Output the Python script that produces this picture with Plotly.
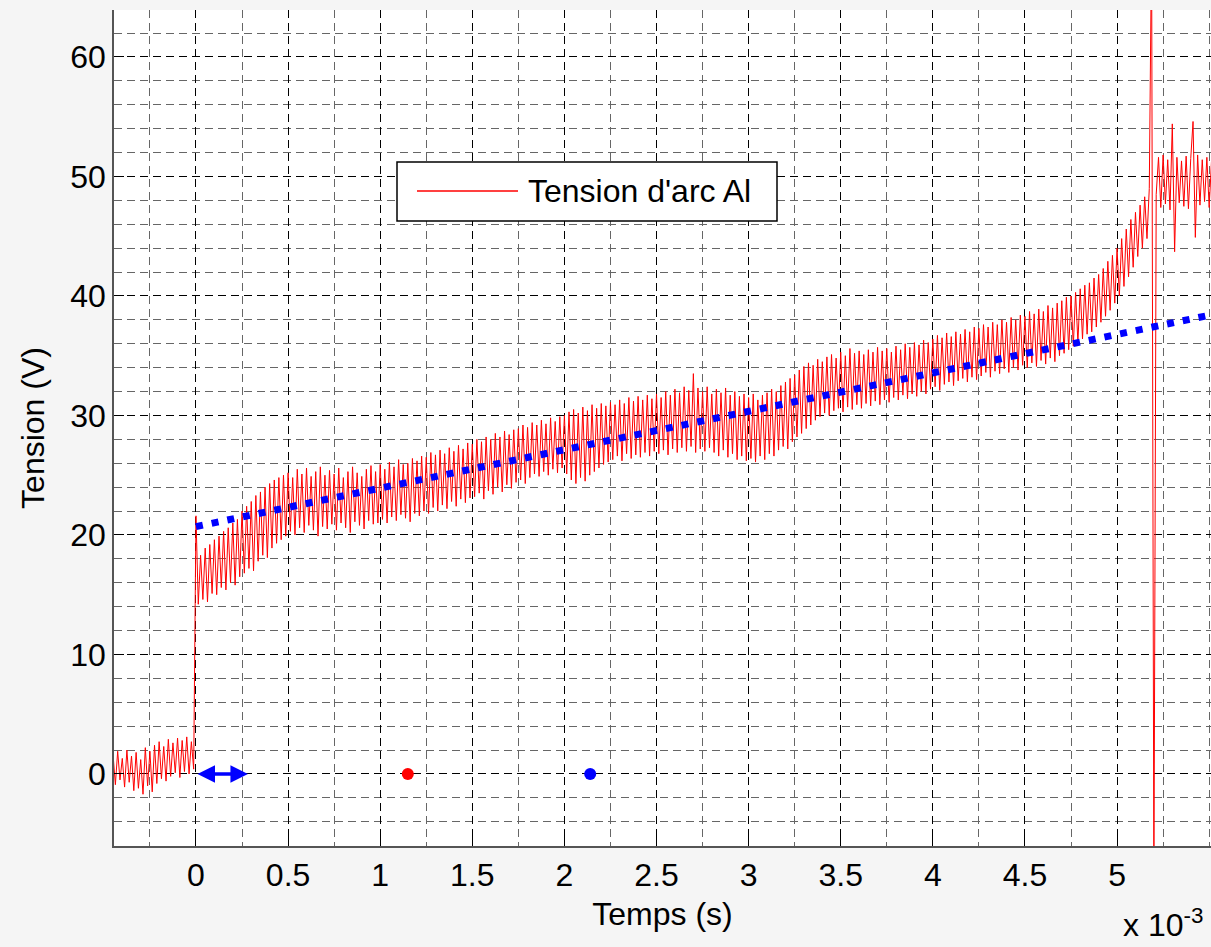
import numpy as np
import plotly.graph_objects as go

# ---- Arc voltage record (sampled every 0.0125 ms, starting at -0.45 ms) ----
T_START_MS = -0.45
DT_MS = 0.0125

# Voltage samples (V) before the arc ignites
V_PRE = [1.6, -0.9, 1.9, -0.5, 1.3, -1.1, 2.0, -0.7, 1.5, -1.4,
         1.8, -1.2, 1.2, -1.7, 2.2, -1.0, 1.9, -1.5, 2.4, -0.8,
         2.7, -0.4, 2.3, -0.6, 2.9, -0.2, 2.6, 0.1, 3.0, -0.3,
         2.8, 0.2, 3.1, 0.0, 2.7, 0.4]

# Arc voltage, one row per 0.25 ms
V_ARC = [
    21.6, 14.2, 18.3, 14.6, 18.9, 14.4, 19.2, 15.1, 19.6, 15.0, 19.9, 15.6, 20.3, 15.4, 20.6, 16.0, 21.0, 15.8, 21.3, 16.5,  # 0.00
    22.0, 16.8, 22.4, 17.2, 22.8, 17.0, 23.3, 17.8, 23.6, 18.3, 24.0, 18.1, 24.3, 18.9, 24.6, 19.3, 24.8, 19.6, 25.0, 19.9,  # 0.25
    25.2, 20.3, 24.8, 20.0, 25.5, 20.6, 25.1, 20.2, 25.6, 20.8, 24.9, 20.4, 25.3, 19.9, 25.7, 20.7, 25.0, 20.5, 25.4, 20.9,  # 0.50
    25.1, 20.4, 25.6, 21.0, 24.8, 20.6, 25.3, 20.2, 25.7, 21.1, 25.2, 20.8, 24.9, 20.5, 25.5, 21.2, 25.8, 20.9, 25.3, 21.0,  # 0.75
    25.9, 21.3, 25.5, 21.0, 26.1, 21.5, 25.7, 21.2, 26.3, 21.7, 25.9, 21.4, 26.0, 21.1, 26.4, 21.8, 26.2, 21.6, 26.6, 22.0,  # 1.00
    26.5, 21.8, 26.9, 22.3, 26.7, 22.0, 27.1, 22.5, 26.8, 22.2, 27.3, 22.8, 27.0, 22.4, 27.5, 23.0, 27.2, 22.7, 27.7, 23.1,  # 1.25
    27.6, 23.2, 28.0, 23.5, 27.8, 23.0, 28.2, 23.7, 28.0, 23.4, 28.5, 24.0, 28.2, 23.6, 28.7, 24.2, 28.4, 23.9, 28.8, 24.4,  # 1.50
    28.9, 24.6, 29.2, 24.3, 29.0, 24.8, 29.4, 25.1, 29.2, 24.9, 29.6, 25.3, 29.3, 25.0, 29.8, 25.5, 29.5, 25.2, 29.9, 25.6,  # 1.75
    30.0, 25.1, 30.3, 24.6, 30.5, 24.3, 30.2, 24.8, 30.7, 24.5, 30.4, 25.0, 30.9, 25.3, 30.6, 25.6, 31.0, 25.9, 30.8, 26.1,  # 2.00
    31.1, 26.3, 30.9, 26.6, 31.3, 26.2, 31.0, 26.8, 31.5, 26.4, 31.2, 26.7, 31.6, 26.5, 31.3, 26.9, 31.7, 26.6, 31.4, 27.0,  # 2.25
    31.8, 26.8, 31.5, 27.1, 32.0, 26.7, 31.7, 27.2, 32.2, 26.9, 31.9, 27.3, 32.4, 27.0, 32.1, 27.4, 33.5, 26.9, 32.3, 27.2,  # 2.50
    32.0, 27.0, 32.4, 27.3, 31.8, 26.9, 32.2, 26.6, 31.9, 27.1, 32.3, 26.5, 31.7, 26.8, 32.0, 26.3, 31.6, 26.6, 31.8, 26.2,  # 2.75
    31.5, 26.4, 31.8, 26.1, 31.3, 26.6, 31.7, 26.3, 31.9, 26.8, 32.2, 26.6, 32.0, 27.1, 32.5, 27.4, 32.8, 27.2, 33.1, 27.8,  # 3.00
    33.4, 28.2, 33.8, 28.5, 34.1, 28.9, 34.4, 29.2, 34.2, 29.6, 34.7, 29.9, 34.5, 30.2, 34.9, 30.0, 35.1, 30.4, 34.8, 30.6,  # 3.25
    35.3, 30.3, 35.0, 30.7, 35.6, 30.5, 35.2, 30.9, 35.4, 30.6, 35.1, 31.0, 35.5, 30.8, 35.3, 31.2, 35.7, 30.9, 35.4, 31.3,  # 3.50
    35.6, 31.1, 35.3, 31.5, 35.8, 31.3, 35.5, 31.7, 36.0, 31.4, 35.7, 31.8, 36.1, 31.6, 35.9, 32.0, 36.3, 31.8, 36.1, 32.2,  # 3.75
    36.4, 32.4, 36.7, 32.1, 36.5, 32.6, 36.9, 32.8, 36.6, 32.5, 37.0, 32.9, 36.8, 33.1, 37.2, 32.8, 37.0, 33.2, 37.4, 33.0,  # 4.00
    37.3, 33.3, 37.6, 33.6, 37.4, 33.2, 37.8, 33.7, 37.6, 33.5, 38.0, 33.9, 37.8, 33.6, 38.2, 34.0, 38.0, 33.8, 38.4, 34.2,  # 4.25
    38.3, 34.0, 38.7, 34.4, 38.5, 34.1, 38.9, 34.6, 38.7, 34.3, 39.2, 34.8, 39.0, 34.5, 39.4, 35.0, 39.6, 35.2, 39.9, 35.5,  # 4.50
    40.0, 35.8, 40.3, 36.1, 40.6, 36.4, 40.9, 36.8, 41.1, 37.0, 41.5, 37.4, 41.8, 37.8, 42.3, 38.3, 42.9, 38.8, 43.4, 39.4,  # 4.75
    44.0, 40.0, 44.8, 40.8, 45.6, 41.6, 46.4, 42.4, 47.0, 43.3, 47.6, 44.0, 48.3, 44.8, 49.0,                                # 5.00
]

# Electrode break-off transient at 5.19 ms
V_BREAK = [70.0, -10.0]

# Open-circuit phase after the break
V_POST = [48.5, 51.6, 47.4, 51.8, 47.7, 51.4, 47.2, 54.4, 43.7, 51.6,
          47.8, 51.3, 47.5, 51.7, 47.3, 51.5, 54.6, 44.9, 51.8, 47.6,
          51.4, 47.9, 51.6, 47.4, 51.2, 48.0]

voltage = np.array(V_PRE + V_ARC + V_BREAK + V_POST)
time_s = (T_START_MS + DT_MS * np.arange(voltage.size)) * 1e-3

# Linear trend of the arc voltage
FIT_T_MS = [0.0, 5.52]
FIT_V = [20.7, 38.45]

# Marked points on the zero line
RED_DOT = (1.15, 0.0)
BLUE_DOT = (2.14, 0.0)
ARROW_MS = (0.0, 0.282)

X_TICK_MS = [0, 0.5, 1, 1.5, 2, 2.5, 3, 3.5, 4, 4.5, 5]
X_TICK_LABELS = ["0", "0.5", "1", "1.5", "2", "2.5", "3", "3.5", "4", "4.5", "5"]
Y_TICK_VALUES = [0, 10, 20, 30, 40, 50, 60]

LEGEND_TEXT = "Tension d'arc Al"
FONT = "Liberation Sans, Arial, sans-serif"
FS = 32

W, H = 1211, 947
L, R, T, B = 114, 0, 10, 101
PW, PH = W - L - R, H - T - B


def px_to_paper(px, py):
    return (px - L) / PW, (H - B - py) / PH


fig = go.Figure()

fig.add_trace(go.Scatter(
    x=time_s, y=voltage, mode="lines",
    line=dict(color="#ff0000", width=1),
    name=LEGEND_TEXT, showlegend=False, hoverinfo="skip",
))

fig.add_trace(go.Scatter(
    x=[t * 1e-3 for t in FIT_T_MS], y=FIT_V, mode="lines",
    line=dict(color="#0000ff", width=7, dash="7px,9px"),
    showlegend=False, hoverinfo="skip",
))

fig.add_trace(go.Scatter(
    x=[RED_DOT[0] * 1e-3], y=[RED_DOT[1]], mode="markers",
    marker=dict(color="#ff0000", size=12), showlegend=False,
))
fig.add_trace(go.Scatter(
    x=[BLUE_DOT[0] * 1e-3], y=[BLUE_DOT[1]], mode="markers",
    marker=dict(color="#0000ff", size=12), showlegend=False,
))

# Double arrow marking the arc start interval
fig.add_annotation(
    x=ARROW_MS[1] * 1e-3, y=0, ax=ARROW_MS[0] * 1e-3, ay=0,
    xref="x", yref="y", axref="x", ayref="y",
    text="", showarrow=True, arrowside="end+start",
    arrowhead=2, arrowsize=1, arrowwidth=3.5, arrowcolor="#0000ff",
    standoff=0, startstandoff=0,
)

# Legend box
x0, y0 = px_to_paper(397, 221)
x1, y1 = px_to_paper(777, 162)
fig.add_shape(type="rect", xref="paper", yref="paper",
              x0=x0, y0=y0, x1=x1, y1=y1,
              line=dict(color="black", width=1.5), fillcolor="white", layer="above")
lx0, ly = px_to_paper(417, 191)
lx1, _ = px_to_paper(518, 191)
fig.add_shape(type="line", xref="paper", yref="paper",
              x0=lx0, y0=ly, x1=lx1, y1=ly,
              line=dict(color="#ff0000", width=1.5), layer="above")
tx, _ = px_to_paper(526, 191)
fig.add_annotation(x=tx, y=ly, xref="paper", yref="paper",
                   text=LEGEND_TEXT, showarrow=False,
                   xanchor="left", yanchor="middle",
                   font=dict(family=FONT, size=FS, color="black"))

# Axis exponent
ex, ey = px_to_paper(1205, 945)
fig.add_annotation(x=ex, y=ey, xref="paper", yref="paper",
                   text="x 10<sup>-3</sup>", showarrow=False,
                   xanchor="right", yanchor="bottom",
                   font=dict(family=FONT, size=FS, color="black"))

grid_major = dict(showgrid=True, gridcolor="black", gridwidth=1, griddash="8px,5px")
grid_minor = dict(showgrid=True, gridcolor="#666666", gridwidth=1.2, griddash="8px,5px",
                  ticks="")

fig.update_xaxes(
    range=[-0.445e-3, 5.51e-3],
    tickmode="array",
    tickvals=[v * 1e-3 for v in X_TICK_MS],
    ticktext=X_TICK_LABELS,
    ticks="inside", ticklen=10, tickcolor="black",
    showline=True, linecolor="#555555", linewidth=1.5,
    zeroline=False,
    tickfont=dict(family=FONT, size=FS, color="black"),
    title=dict(text="Temps (s)", font=dict(family=FONT, size=FS, color="black"), standoff=10),
    minor=dict(dtick=0.25e-3, tick0=0, **grid_minor),
    **grid_major,
)
fig.update_yaxes(
    range=[-6.03, 63.93],
    tickmode="array", tickvals=Y_TICK_VALUES,
    ticks="inside", ticklen=10, tickcolor="black",
    showline=True, linecolor="#555555", linewidth=1.5,
    zeroline=False,
    tickfont=dict(family=FONT, size=FS, color="black"),
    title=dict(text="Tension (V)", font=dict(family=FONT, size=FS, color="black"), standoff=16),
    minor=dict(dtick=2, tick0=0, **grid_minor),
    **grid_major,
)

fig.update_layout(
    width=W, height=H,
    margin=dict(l=L, r=R, t=T, b=B),
    paper_bgcolor="#f5f5f5",
    plot_bgcolor="white",
    showlegend=False,
    font=dict(family=FONT, size=FS, color="black"),
)

fig.write_html("out.html")
